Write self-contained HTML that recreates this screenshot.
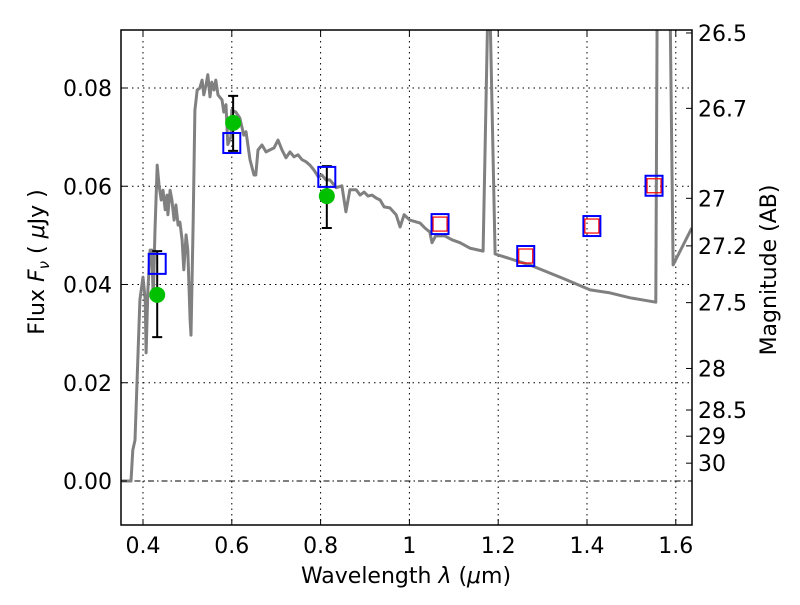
<!DOCTYPE html>
<html><head><meta charset="utf-8"><style>
body{margin:0;background:#fff}
svg text{font-family:"DejaVu Sans","Liberation Sans",sans-serif;font-size:22px;fill:#000}
</style></head><body>
<svg id="chart" width="800" height="600" xmlns="http://www.w3.org/2000/svg">
<defs><clipPath id="clip"><rect x="121" y="30" width="571" height="495"/></clipPath></defs>
<g id="grid"></g>
<g id="marks" clip-path="url(#clip)"></g>
<rect x="121" y="30" width="571" height="495" fill="none" stroke="#000" stroke-width="1.5"/>
<g id="axes"></g>
<text x="406" y="583" text-anchor="middle">Wavelength  <tspan font-style="italic">λ</tspan> (<tspan font-style="italic">μ</tspan>m)</text>
<text transform="translate(44,262) rotate(-90)" text-anchor="middle">Flux  <tspan font-style="italic">F</tspan><tspan font-style="italic" font-size="15" dy="5">ν</tspan><tspan dy="-5">  ( </tspan><tspan font-style="italic">μ</tspan>Jy )</text>
<text transform="translate(776,270) rotate(-90)" text-anchor="middle">Magnitude (AB)</text>
</svg>
<script>
const specLam=[0.350,0.373,0.377,0.382,0.393,0.400,0.405,0.407,0.411,0.416,0.420,0.423,0.427,0.432,0.436,0.441,0.445,0.450,0.454,0.456,0.461,0.465,0.470,0.474,0.479,0.483,0.488,0.492,0.497,0.501,0.506,0.508,0.513,0.517,0.522,0.528,0.533,0.537,0.542,0.546,0.551,0.555,0.560,0.564,0.569,0.578,0.582,0.587,0.591,0.598,0.600,0.609,0.618,0.627,0.632,0.641,0.650,0.654,0.659,0.668,0.677,0.686,0.695,0.704,0.713,0.722,0.731,0.740,0.749,0.758,0.767,0.776,0.785,0.795,0.803,0.812,0.821,0.830,0.835,0.848,0.857,0.866,0.880,0.889,0.898,0.907,0.916,0.925,0.934,0.943,0.956,0.970,0.979,0.988,1.001,1.024,1.035,1.046,1.051,1.059,1.080,1.096,1.114,1.136,1.166,1.177,1.181,1.193,1.271,1.350,1.407,1.452,1.497,1.555,1.558,1.587,1.594,1.636];
const specFlux=[0,0,0.0063,0.0083,0.0369,0.0415,0.0369,0.0261,0.0389,0.0470,0.0470,0.0369,0.0511,0.0643,0.0603,0.0572,0.0592,0.0552,0.0582,0.0542,0.0592,0.0572,0.0531,0.0562,0.0521,0.0527,0.0491,0.0430,0.0501,0.0470,0.0328,0.0297,0.0531,0.0755,0.0796,0.0800,0.0816,0.0786,0.0806,0.0827,0.0782,0.0812,0.0796,0.0816,0.0786,0.0776,0.0751,0.0766,0.0685,0.0700,0.0755,0.0751,0.0739,0.0704,0.0711,0.0654,0.0623,0.0623,0.0674,0.0684,0.0670,0.0674,0.0678,0.0694,0.0674,0.0658,0.0670,0.0660,0.0664,0.0654,0.0650,0.0643,0.0633,0.0619,0.0623,0.0613,0.0613,0.0603,0.0597,0.0601,0.0548,0.0593,0.0593,0.0582,0.0588,0.0580,0.0582,0.0576,0.0572,0.0558,0.0556,0.0542,0.0517,0.0542,0.0531,0.0525,0.0515,0.0507,0.0485,0.0499,0.0499,0.0491,0.0485,0.0474,0.0468,0.098,0.098,0.0462,0.0440,0.0411,0.0389,0.0383,0.0373,0.0364,0.098,0.098,0.0440,0.0515];
const modelLam=[0.432,0.600,0.814,1.069,1.262,1.411,1.551];
const modelFlux=[0.0442,0.0688,0.0619,0.0523,0.0458,0.0519,0.0601];
const redLam=[1.069,1.262,1.411,1.551];
const redFlux=[0.0523,0.0458,0.0519,0.0601];
const obsLam=[0.432,0.603,0.814];
const obsFlux=[0.0379,0.0729,0.0580];
const obsHi=[0.0468,0.0784,0.0641];
const obsLo=[0.0293,0.0672,0.0515];
const xTicks=[0.4,0.6,0.8,1.0,1.2,1.4,1.6];
const xTickLabels=["0.4","0.6","0.8","1","1.2","1.4","1.6"];
const yTicks=[0,0.02,0.04,0.06,0.08];
const yTickLabels=["0.00","0.02","0.04","0.06","0.08"];
const magTicks=[26.5,26.7,27,27.2,27.5,28,28.5,29,30];
const magLabels=["26.5","26.7","27","27.2","27.5","28","28.5","29","30"];

const NS="http://www.w3.org/2000/svg";
const X=v=>143+(v-0.4)*444;
const Y=v=>481-v*4912.5;
function mk(tag,attrs,parent){const e=document.createElementNS(NS,tag);for(const k in attrs)e.setAttribute(k,attrs[k]);parent.appendChild(e);return e;}
const grid=document.getElementById('grid'),marks=document.getElementById('marks'),axes=document.getElementById('axes');

xTicks.forEach((t,i)=>{
  const g=mk('line',{x1:X(t),x2:X(t),y1:30,y2:525,stroke:'#000','stroke-width':1,'stroke-dasharray':'1.5,4'},grid);
  
  
  const tk=mk('line',{x1:X(t),x2:X(t),y1:525,y2:519,stroke:'#000'},axes);
  
  
  const tk2=mk('line',{x1:X(t),x2:X(t),y1:30,y2:36,stroke:'#000'},axes);
  
  
  const tx=mk('text',{x:X(t),y:553,'text-anchor':'middle'},axes);tx.textContent=xTickLabels[i];
  
  
});
yTicks.forEach((t,i)=>{
  const g=mk('line',{x1:121,x2:692,y1:Y(t),y2:Y(t),stroke:'#000','stroke-width':1,'stroke-dasharray':t===0?'6,3,1.5,3':'1.5,4'},grid);
  
  
  const tk=mk('line',{x1:121,x2:127,y1:Y(t),y2:Y(t),stroke:'#000'},axes);
  
  
  const tx=mk('text',{x:112,y:Y(t)+8,'text-anchor':'end'},axes);tx.textContent=yTickLabels[i];
  
  
});
magTicks.forEach((m,i)=>{
  const f=Math.pow(10,(23.9-m)/2.5);
  const tk=mk('line',{x1:686,x2:692,y1:Y(f),y2:Y(f),stroke:'#000'},axes);
  
  
  const tx=mk('text',{x:698,y:Y(f)+8,'text-anchor':'start'},axes);tx.textContent=magLabels[i];
  
  
});

const pts=specLam.map((l,i)=>X(l).toFixed(1)+','+Y(specFlux[i]).toFixed(1)).join(' ');
const sp=mk('polyline',{points:pts,fill:'none',stroke:'#808080','stroke-width':3,'stroke-linejoin':'round'},marks);



obsLam.forEach((l,i)=>{
  const x=X(l);
  const eb=mk('path',{d:`M${x},${Y(obsHi[i])}V${Y(obsLo[i])}M${x-5},${Y(obsHi[i])}h10M${x-5},${Y(obsLo[i])}h10`,stroke:'#000','stroke-width':2,fill:'none'},marks);
  
  
});
modelLam.forEach((l,i)=>{
  const r=mk('rect',{x:X(l)-8.5,y:Y(modelFlux[i])-10,width:17,height:20,fill:'none',stroke:'#0000ff','stroke-width':2},marks);
  
  
});
redLam.forEach((l,i)=>{
  const r=mk('rect',{x:X(l)-7,y:Y(redFlux[i])-7,width:14,height:14,fill:'none',stroke:'#ff0000','stroke-width':1.2},marks);
  
  
});
obsLam.forEach((l,i)=>{
  const c=mk('circle',{cx:X(l),cy:Y(obsFlux[i]),r:8,fill:'#00c000'},marks);
  
  
});
</script>
</body></html>
